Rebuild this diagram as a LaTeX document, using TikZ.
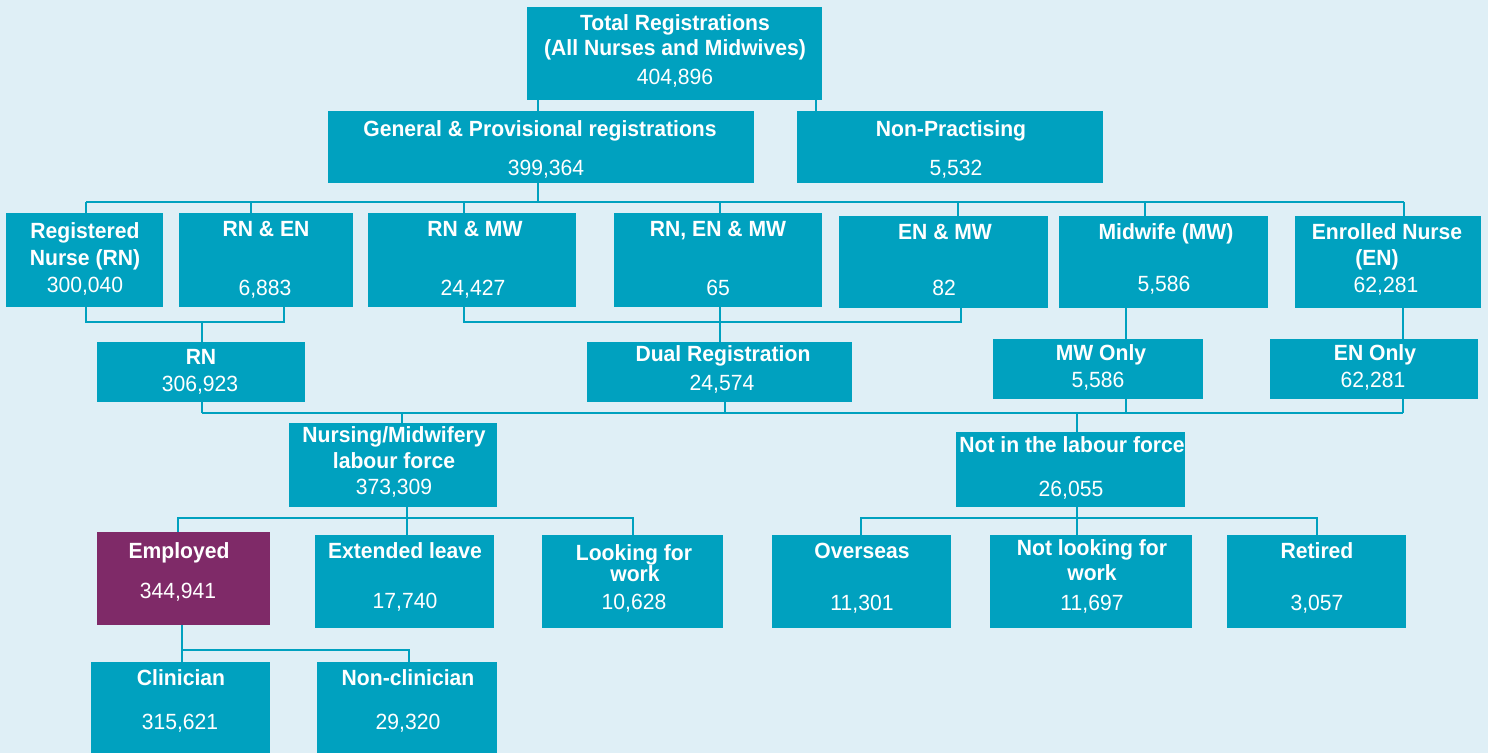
\documentclass[tikz,border=0pt]{standalone}
\usepackage{fontspec}
\setmainfont{Liberation Sans}[FakeStretch=0.96]
\usetikzlibrary{fit}
\definecolor{bgc}{RGB}{223,239,246}
\definecolor{boxc}{RGB}{0,161,191}
\definecolor{purp}{RGB}{127,42,104}
\newcounter{lbl}
\newcommand\bx[6][boxc]{\node[box, fill=#1, fit={(#3,#4) (#5,#6)}] (#2) {};}
\newcommand\ttl[3]{\stepcounter{lbl}\node[tb] (L\arabic{lbl}) at (#1,#2+8) {#3};}
\newcommand\num[3]{\stepcounter{lbl}\node[tn] (L\arabic{lbl}) at (#1,#2+8) {#3};}
\begin{document}
\begin{tikzpicture}[x=1pt,y=-1pt,
  box/.style={inner sep=0pt, draw=none, outer sep=0pt},
  ln/.style={draw=boxc, line width=2.5pt},
  tb/.style={text=white, anchor=base, inner sep=0pt, font=\fontsize{22}{24}\selectfont\bfseries},
  tn/.style={text=white, anchor=base, inner sep=0pt, font=\fontsize{22}{24}\selectfont}]
\useasboundingbox (0,0) rectangle (1488,753);
\fill[bgc] (0,0) rectangle (1488,753);

% boxes
\bx{total}{527}{7}{822}{100}
\bx{gen}{328}{111}{754}{183}
\bx{np}{797}{111}{1103}{183}
\bx{rnurse}{6}{213}{163}{307}
\bx{rnen}{179}{213}{353}{307}
\bx{rnmw}{368}{213}{576}{307}
\bx{rnenmw}{614}{213}{822}{307}
\bx{enmw}{839}{216}{1048}{308}
\bx{mw}{1059}{216}{1268}{308}
\bx{en}{1295}{216}{1481}{308}
\bx{rn}{97}{342}{305}{402}
\bx{dual}{587}{342}{852}{402}
\bx{mwonly}{993}{339}{1203}{399}
\bx{enonly}{1270}{339}{1478}{399}
\bx{nm}{289}{423}{497}{507}
\bx{nilf}{956}{432}{1185}{507}
\bx[purp]{emp}{97}{532}{270}{625}
\bx{ext}{315}{535}{494}{628}
\bx{look}{542}{535}{723}{628}
\bx{ov}{772}{535}{951}{628}
\bx{nl}{990}{535}{1192}{628}
\bx{ret}{1227}{535}{1406}{628}
\bx{clin}{91}{662}{270}{753}
\bx{nonclin}{317}{662}{497}{753}

% bus levels
\coordinate (bus1) at (0,202);
\coordinate (br1) at (0,322);
\coordinate (bus2) at (0,413);
\coordinate (bus3) at (0,518);
\coordinate (bus4) at (0,650);

% connectors
\draw[ln] (538,0 |- total.south) -- (538,0 |- gen.north);
\draw[ln] (816,0 |- total.south) -- (816,0 |- np.north);
\draw[ln] (538,0 |- gen.south) -- (538,0 |- bus1);
\draw[ln] (86,0 |- bus1) -- (1404,0 |- bus1);
\draw[ln] (86,0 |- bus1) -- (86,0 |- rnurse.north);
\draw[ln] (251,0 |- bus1) -- (251,0 |- rnen.north);
\draw[ln] (464,0 |- bus1) -- (464,0 |- rnmw.north);
\draw[ln] (720,0 |- bus1) -- (720,0 |- rnenmw.north);
\draw[ln] (958,0 |- bus1) -- (958,0 |- enmw.north);
\draw[ln] (1145,0 |- bus1) -- (1145,0 |- mw.north);
\draw[ln] (1404,0 |- bus1) -- (1404,0 |- en.north);

\draw[ln] (86,0 |- rnurse.south) -- (86,0 |- br1) -- (284,0 |- br1) -- (284,0 |- rnen.south);
\draw[ln] (202,0 |- br1) -- (202,0 |- rn.north);
\draw[ln] (464,0 |- rnmw.south) -- (464,0 |- br1) -- (961,0 |- br1) -- (961,0 |- enmw.south);
\draw[ln] (720,0 |- rnenmw.south) -- (720,0 |- dual.north);
\draw[ln] (1126,0 |- mw.south) -- (1126,0 |- mwonly.north);
\draw[ln] (1403,0 |- en.south) -- (1403,0 |- enonly.north);

\draw[ln] (202,0 |- bus2) -- (1403,0 |- bus2);
\draw[ln] (202,0 |- rn.south) -- (202,0 |- bus2);
\draw[ln] (725,0 |- dual.south) -- (725,0 |- bus2);
\draw[ln] (1126,0 |- mwonly.south) -- (1126,0 |- bus2);
\draw[ln] (1403,0 |- enonly.south) -- (1403,0 |- bus2);
\draw[ln] (402,0 |- bus2) -- (402,0 |- nm.north);
\draw[ln] (1077,0 |- bus2) -- (1077,0 |- nilf.north);

\draw[ln] (407,0 |- nm.south) -- (407,0 |- bus3);
\draw[ln] (178,0 |- emp.north) -- (178,0 |- bus3) -- (633,0 |- bus3) -- (633,0 |- look.north);
\draw[ln] (407,0 |- bus3) -- (407,0 |- ext.north);
\draw[ln] (1077,0 |- nilf.south) -- (1077,0 |- bus3);
\draw[ln] (861,0 |- ov.north) -- (861,0 |- bus3) -- (1317,0 |- bus3) -- (1317,0 |- ret.north);
\draw[ln] (1077,0 |- bus3) -- (1077,0 |- nl.north);

\draw[ln] (182,0 |- emp.south) -- (182,0 |- clin.north);
\draw[ln] (182,0 |- bus4) -- (409,0 |- bus4) -- (409,0 |- nonclin.north);

% texts
\ttl{675}{22}{Total Registrations}
\ttl{675}{47}{(All Nurses and Midwives)}
\num{675}{76}{404,896}
\ttl{540}{128}{General \& Provisional registrations}
\num{546}{167}{399,364}
\ttl{951}{128}{Non-Practising}
\num{956}{167}{5,532}

\ttl{85}{230}{Registered}
\ttl{85}{257}{Nurse (RN)}
\num{85}{284}{300,040}
\ttl{266}{228}{RN \& EN}
\num{265}{287}{6,883}
\ttl{475}{228}{RN \& MW}
\num{473}{287}{24,427}
\ttl{718}{228}{RN, EN \& MW}
\num{718}{287}{65}
\ttl{945}{231}{EN \& MW}
\num{944}{287}{82}
\ttl{1166}{231}{Midwife (MW)}
\num{1164}{283}{5,586}
\ttl{1387}{231}{Enrolled Nurse}
\ttl{1377}{257}{(EN)}
\num{1386}{284}{62,281}

\ttl{201}{356}{RN}
\num{200}{383}{306,923}
\ttl{723}{353}{Dual Registration}
\num{722}{382}{24,574}
\ttl{1101}{352}{MW Only}
\num{1098}{379}{5,586}
\ttl{1375}{352}{EN Only}
\num{1373}{379}{62,281}

\ttl{394}{434}{Nursing/Midwifery}
\ttl{394}{460}{labour force}
\num{394}{486}{373,309}
\ttl{1072}{444}{Not in the labour force}
\num{1071}{488}{26,055}

\ttl{179}{550}{Employed}
\num{178}{590}{344,941}
\ttl{405}{550}{Extended leave}
\num{405}{600}{17,740}
\ttl{634}{552}{Looking for}
\ttl{635}{573}{work}
\num{634}{601}{10,628}
\ttl{862}{550}{Overseas}
\num{862}{602}{11,301}
\ttl{1092}{547}{Not looking for}
\ttl{1092}{572}{work}
\num{1092}{602}{11,697}
\ttl{1317}{550}{Retired}
\num{1317}{602}{3,057}

\ttl{181}{677}{Clinician}
\num{180}{721}{315,621}
\ttl{408}{677}{Non-clinician}
\num{408}{721}{29,320}
\end{tikzpicture}
\end{document}
